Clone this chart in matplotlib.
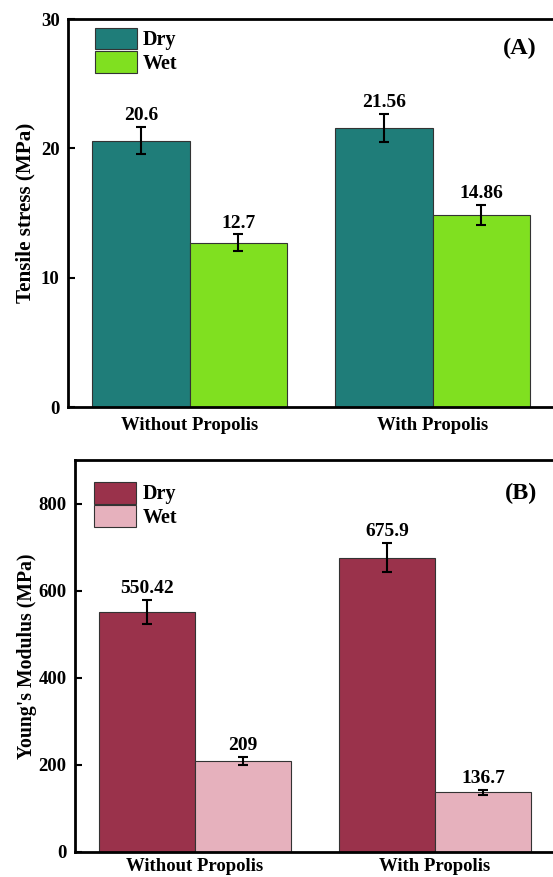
import numpy as np
import matplotlib.pyplot as plt

plt.rcParams["font.family"] = ["Liberation Serif", "DejaVu Serif"]
plt.rcParams["font.weight"] = "bold"

groups = ["Without Propolis", "With Propolis"]
series = ["Dry", "Wet"]

tensile = [20.6, 12.7, 21.56, 14.86]
tensile_err = [1.05, 0.65, 1.1, 0.78]
tensile_labels = ["20.6", "12.7", "21.56", "14.86"]

modulus = [550.42, 209.0, 675.9, 136.7]
modulus_err = [28, 10, 34, 6.5]
modulus_labels = ["550.42", "209", "675.9", "136.7"]

W, H = 553, 877
fig = plt.figure(figsize=(W / 100, H / 100), dpi=100)


def px_axes(left, top, right, bottom):
    return fig.add_axes([left / W, 1 - bottom / H, (right - left) / W, (bottom - top) / H])


def panel(ax, vals, errs, labels, colors, ylim, yticks, ylabel, ylabel_size, tag, tag_y,
          leg_anchor, xpad):
    x = np.arange(len(groups))
    w = 0.4
    n = len(groups)
    dry = vals[0::2]
    wet = vals[1::2]
    ax.bar(x - w / 2, dry, w, color=colors[0], edgecolor="#333333", linewidth=0.8,
           label=series[0], zorder=2)
    ax.bar(x + w / 2, wet, w, color=colors[1], edgecolor="#333333", linewidth=0.8,
           label=series[1], zorder=2)
    xs = np.ravel(np.column_stack([x - w / 2, x + w / 2]))
    ax.errorbar(xs, vals, yerr=errs, fmt="none", ecolor="black", elinewidth=1.5,
                capsize=3.5, capthick=1.5, zorder=3)
    for xi, v, e, lab in zip(xs, vals, errs, labels):
        ax.annotate(lab, (xi, v + e), xytext=(0, 2), textcoords="offset points",
                    ha="center", va="bottom", fontsize=14, fontweight="bold")
    ax.set_xlim(-0.5, n - 0.5)
    ax.set_ylim(*ylim)
    ax.set_yticks(yticks)
    ax.set_xticks(x)
    ax.set_xticklabels(groups, fontsize=13.5, fontweight="bold")
    ax.tick_params(axis="both", direction="in", length=5, width=1.5, labelsize=13.5)
    ax.tick_params(axis="x", pad=xpad)
    ax.tick_params(axis="y", pad=6)
    for s in ax.spines.values():
        s.set_linewidth(2)
    ax.set_ylabel(ylabel, fontsize=ylabel_size, fontweight="bold")
    ax.text(0.93, tag_y, tag, transform=ax.transAxes, ha="center", va="center",
            fontsize=17.5, fontweight="bold")
    ax.legend(loc="upper left", bbox_to_anchor=leg_anchor, frameon=False, fontsize=14.5,
              handlelength=2.1, handleheight=1.3, labelspacing=0.05, handletextpad=0.3,
              borderaxespad=0, borderpad=0)


ax1 = px_axes(68, 19, 554, 407)
panel(ax1, tensile, tensile_err, tensile_labels, ["#1f7d79", "#80e020"],
      (0, 30), [0, 10, 20, 30], "Tensile stress (MPa)", 15.2, "(A)", 0.925,
      (0.055, 0.978), 7)
ax1.yaxis.set_label_coords(-0.066, 0.5)

ax2 = px_axes(75, 460, 555, 852)
panel(ax2, modulus, modulus_err, modulus_labels, ["#9a324b", "#e6b1bd"],
      (0, 900), [0, 200, 400, 600, 800], "Young's Modulus (MPa)", 14.2, "(B)", 0.915,
      (0.04, 0.945), 4.5)
ax2.yaxis.set_label_coords(-0.08, 0.5)

fig.savefig("out.png", dpi=100)
